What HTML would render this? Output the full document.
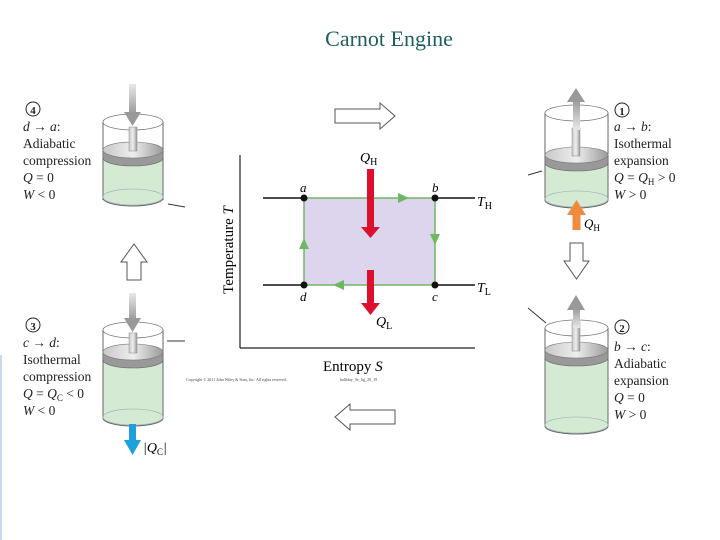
<!DOCTYPE html>
<html><head><meta charset="utf-8"><style>
body{margin:0;background:#fff}
svg{display:block}
text{font-family:"Liberation Serif",serif}
</style></head><body>
<svg width="720" height="540" viewBox="0 0 720 540" xmlns="http://www.w3.org/2000/svg">
<defs>
<linearGradient id="ga" x1="0" y1="0" x2="0" y2="1"><stop offset="0" stop-color="#e8e8e8"/><stop offset="1" stop-color="#9a9a9a"/></linearGradient>
<linearGradient id="gu" x1="0" y1="1" x2="0" y2="0"><stop offset="0" stop-color="#e8e8e8"/><stop offset="1" stop-color="#9a9a9a"/></linearGradient>
<linearGradient id="pd" x1="0" y1="0" x2="1" y2="0"><stop offset="0" stop-color="#c8c8c8"/><stop offset="0.5" stop-color="#eee"/><stop offset="1" stop-color="#9a9a9a"/></linearGradient>
</defs>
<text x="389" y="46" font-size="22" fill="#1d5f5f" text-anchor="middle">Carnot Engine</text>
<line x1="1" y1="355" x2="1" y2="540" stroke="#c9dbe8" stroke-width="2"/>

<!-- Cyl 4 -->
<g>
<path d="M103 200 L103 122 M163 122 L163 200" stroke="#666" fill="none"/>
<path d="M103 158 L163 158 L163 198 A30 8 0 0 1 103 198 Z" fill="#d4ead3" stroke="#666"/>
<ellipse cx="133" cy="197" rx="30" ry="8" fill="none" stroke="#9ab" stroke-width="0.6"/>
<ellipse cx="133" cy="122" rx="30" ry="8" fill="none" stroke="#777" stroke-width="0.8"/>
<path d="M103 150 L103 158 A30 8 0 0 0 163 158 L163 150" fill="#999" stroke="#666" stroke-width="0.6"/>
<ellipse cx="133" cy="150" rx="30" ry="8" fill="url(#pd)" stroke="#777" stroke-width="0.6"/>
<rect x="129" y="127" width="8" height="24" fill="url(#pd)" stroke="#888" stroke-width="0.5"/>
<rect x="129" y="84" width="7" height="30" fill="url(#ga)"/>
<path d="M124 112 L141 112 L132.5 126 Z" fill="#999"/>
</g>
<!-- Cyl 3 -->
<g>
<path d="M103 415 L103 330 M163 330 L163 415" stroke="#666" fill="none"/>
<path d="M103 362 L163 362 L163 418 A30 8 0 0 1 103 418 Z" fill="#d4ead3" stroke="#666"/>
<ellipse cx="133" cy="417" rx="30" ry="8" fill="none" stroke="#9ab" stroke-width="0.6"/>
<ellipse cx="133" cy="330" rx="30" ry="8" fill="none" stroke="#777" stroke-width="0.8"/>
<path d="M103 352 L103 360 A30 8 0 0 0 163 360 L163 352" fill="#999" stroke="#666" stroke-width="0.6"/>
<ellipse cx="133" cy="352" rx="30" ry="8" fill="url(#pd)" stroke="#777" stroke-width="0.6"/>
<rect x="129" y="333" width="8" height="20" fill="url(#pd)" stroke="#888" stroke-width="0.5"/>
<rect x="129" y="293" width="7" height="27" fill="url(#ga)"/>
<path d="M124 318 L141 318 L132.5 332 Z" fill="#999"/>
<rect x="129" y="424" width="7" height="18" fill="#1ea0dc"/>
<path d="M124 440 L141 440 L132.5 455 Z" fill="#1ea0dc"/>
<text x="143" y="452" font-size="14" font-style="italic">|Q<tspan font-size="9" font-style="normal" dy="3">C</tspan><tspan dy="-3">|</tspan></text>
</g>
<!-- Cyl 1 -->
<g>
<path d="M545 200 L545 113 M608 113 L608 200" stroke="#666" fill="none"/>
<path d="M545 164 L608 164 L608 200 A31.5 8 0 0 1 545 200 Z" fill="#d4ead3" stroke="#666"/>
<ellipse cx="576.5" cy="199" rx="31.5" ry="8" fill="none" stroke="#9ab" stroke-width="0.6"/>
<ellipse cx="576.5" cy="113" rx="31.5" ry="8" fill="none" stroke="#777" stroke-width="0.8"/>
<path d="M545 155 L545 163 A31.5 8 0 0 0 608 163 L608 155" fill="#999" stroke="#666" stroke-width="0.6"/>
<ellipse cx="576.5" cy="155" rx="31.5" ry="8" fill="url(#pd)" stroke="#777" stroke-width="0.6"/>
<rect x="572" y="128" width="8" height="28" fill="url(#pd)" stroke="#888" stroke-width="0.5"/>
<rect x="573" y="100" width="7" height="30" fill="url(#gu)"/>
<path d="M567 102 L585 102 L576 88 Z" fill="#999"/>
<rect x="572.5" y="213" width="8" height="17" fill="#f08a3c"/>
<path d="M567 215 L586 215 L576.5 200 Z" fill="#f08a3c"/>
<text x="584" y="228" font-size="13" font-style="italic">Q<tspan font-size="9" font-style="normal" dy="3">H</tspan></text>
<line x1="528" y1="175" x2="542" y2="171" stroke="#333"/>
</g>
<!-- Cyl 2 -->
<g>
<path d="M545 425 L545 328 M608 328 L608 425" stroke="#666" fill="none"/>
<path d="M545 358 L608 358 L608 426 A31.5 8 0 0 1 545 426 Z" fill="#d4ead3" stroke="#666"/>
<ellipse cx="576.5" cy="425" rx="31.5" ry="8" fill="none" stroke="#9ab" stroke-width="0.6"/>
<ellipse cx="576.5" cy="328" rx="31.5" ry="8" fill="none" stroke="#777" stroke-width="0.8"/>
<path d="M545 350 L545 358 A31.5 8 0 0 0 608 358 L608 350" fill="#999" stroke="#666" stroke-width="0.6"/>
<ellipse cx="576.5" cy="350" rx="31.5" ry="8" fill="url(#pd)" stroke="#777" stroke-width="0.6"/>
<rect x="572" y="322" width="8" height="29" fill="url(#pd)" stroke="#888" stroke-width="0.5"/>
<rect x="573" y="308" width="7" height="20" fill="url(#gu)"/>
<path d="M567 310 L585 310 L576 295 Z" fill="#999"/>
<line x1="528" y1="308" x2="546" y2="323" stroke="#333"/>
</g>
<line x1="168" y1="204" x2="185" y2="207" stroke="#333"/>
<line x1="167" y1="341" x2="185" y2="341" stroke="#333"/>

<!-- hollow arrows -->
<path d="M335 109 L380 109 L380 103 L395 116 L380 129 L380 123 L335 123 Z" fill="#fff" stroke="#555"/>
<path d="M395 410 L350 410 L350 404 L335 417 L350 430 L350 424 L395 424 Z" fill="#fff" stroke="#555"/>
<path d="M127 280 L127 262 L121 262 L134 244 L147 262 L141 262 L141 280 Z" fill="#fff" stroke="#555"/>
<path d="M570 243 L570 261 L564 261 L576.5 279 L589 261 L583 261 L583 243 Z" fill="#fff" stroke="#555"/>

<!-- chart -->
<line x1="240" y1="155" x2="240" y2="348" stroke="#222" stroke-width="1.2"/>
<line x1="240" y1="348" x2="475" y2="348" stroke="#222" stroke-width="1.2"/>
<rect x="304" y="198" width="131" height="87" fill="#ddd5ee" stroke="#6fb862" stroke-width="1.5"/>
<line x1="263" y1="198" x2="304" y2="198" stroke="#111" stroke-width="1.5"/>
<line x1="435" y1="198" x2="475" y2="198" stroke="#111" stroke-width="1.5"/>
<line x1="263" y1="285" x2="304" y2="285" stroke="#111" stroke-width="1.5"/>
<line x1="435" y1="285" x2="475" y2="285" stroke="#111" stroke-width="1.5"/>
<path d="M398 193 L409 198 L398 203 Z" fill="#6fb862"/>
<path d="M430 234 L440 234 L435 245 Z" fill="#6fb862"/>
<path d="M299 249 L309 249 L304 238 Z" fill="#6fb862"/>
<path d="M344 280 L333 285 L344 290 Z" fill="#6fb862"/>
<circle cx="304" cy="198" r="3.5" fill="#111"/>
<circle cx="435" cy="198" r="3.5" fill="#111"/>
<circle cx="435" cy="285" r="3.5" fill="#111"/>
<circle cx="304" cy="285" r="3.5" fill="#111"/>
<rect x="367" y="169" width="7" height="60" fill="#dc0f2c"/>
<path d="M361 227 L380 227 L370.5 238 Z" fill="#dc0f2c"/>
<rect x="367" y="270" width="7" height="35" fill="#dc0f2c"/>
<path d="M361 303 L380 303 L370.5 315 Z" fill="#dc0f2c"/>
<g font-size="14" font-style="italic">
<text x="360" y="162">Q<tspan font-size="10" font-style="normal" dy="3">H</tspan></text>
<text x="376" y="326">Q<tspan font-size="10" font-style="normal" dy="3">L</tspan></text>
<text x="477" y="206">T<tspan font-size="10" font-style="normal" dy="3">H</tspan></text>
<text x="477" y="292">T<tspan font-size="10" font-style="normal" dy="3">L</tspan></text>
<text x="300" y="192" font-size="13">a</text>
<text x="432" y="192" font-size="13">b</text>
<text x="432" y="301" font-size="13">c</text>
<text x="300" y="301" font-size="13">d</text>
</g>
<text x="323" y="371" font-size="15">Entropy <tspan font-style="italic">S</tspan></text>
<text transform="translate(233,250) rotate(-90)" text-anchor="middle" font-size="15">Temperature <tspan font-style="italic">T</tspan></text>
<text x="186" y="381" font-size="4" fill="#444">Copyright © 2011 John Wiley &amp; Sons, Inc. All rights reserved.</text>
<text x="340" y="381" font-size="4" fill="#444">halliday_9e_fig_20_19</text>

<!-- labels -->
<g font-size="13.5" fill="#222">
<circle cx="33" cy="109" r="7" fill="none" stroke="#222"/><text x="33" y="114" text-anchor="middle" font-family="Liberation Sans" font-weight="bold" font-size="11">4</text>
<text x="23" y="131"><tspan font-style="italic">d</tspan> → <tspan font-style="italic">a</tspan>:</text>
<text x="23" y="148">Adiabatic</text>
<text x="23" y="165">compression</text>
<text x="23" y="182"><tspan font-style="italic">Q</tspan> = 0</text>
<text x="23" y="199"><tspan font-style="italic">W</tspan> &lt; 0</text>

<circle cx="33" cy="325" r="7" fill="none" stroke="#222"/><text x="33" y="330" text-anchor="middle" font-family="Liberation Sans" font-weight="bold" font-size="11">3</text>
<text x="23" y="347"><tspan font-style="italic">c</tspan> → <tspan font-style="italic">d</tspan>:</text>
<text x="23" y="364">Isothermal</text>
<text x="23" y="381">compression</text>
<text x="23" y="398"><tspan font-style="italic">Q</tspan> = <tspan font-style="italic">Q</tspan><tspan font-size="9" dy="3">C</tspan><tspan dy="-3"> &lt; 0</tspan></text>
<text x="23" y="415"><tspan font-style="italic">W</tspan> &lt; 0</text>

<circle cx="622" cy="110" r="7" fill="none" stroke="#222"/><text x="622" y="115" text-anchor="middle" font-family="Liberation Sans" font-weight="bold" font-size="11">1</text>
<text x="614" y="131"><tspan font-style="italic">a</tspan> → <tspan font-style="italic">b</tspan>:</text>
<text x="614" y="148">Isothermal</text>
<text x="614" y="165">expansion</text>
<text x="614" y="182"><tspan font-style="italic">Q</tspan> = <tspan font-style="italic">Q</tspan><tspan font-size="9" dy="3">H</tspan><tspan dy="-3"> &gt; 0</tspan></text>
<text x="614" y="199"><tspan font-style="italic">W</tspan> &gt; 0</text>

<circle cx="622" cy="327" r="7" fill="none" stroke="#222"/><text x="622" y="332" text-anchor="middle" font-family="Liberation Sans" font-weight="bold" font-size="11">2</text>
<text x="614" y="351"><tspan font-style="italic">b</tspan> → <tspan font-style="italic">c</tspan>:</text>
<text x="614" y="368">Adiabatic</text>
<text x="614" y="385">expansion</text>
<text x="614" y="402"><tspan font-style="italic">Q</tspan> = 0</text>
<text x="614" y="419"><tspan font-style="italic">W</tspan> &gt; 0</text>
</g>
</svg>
</body></html>
